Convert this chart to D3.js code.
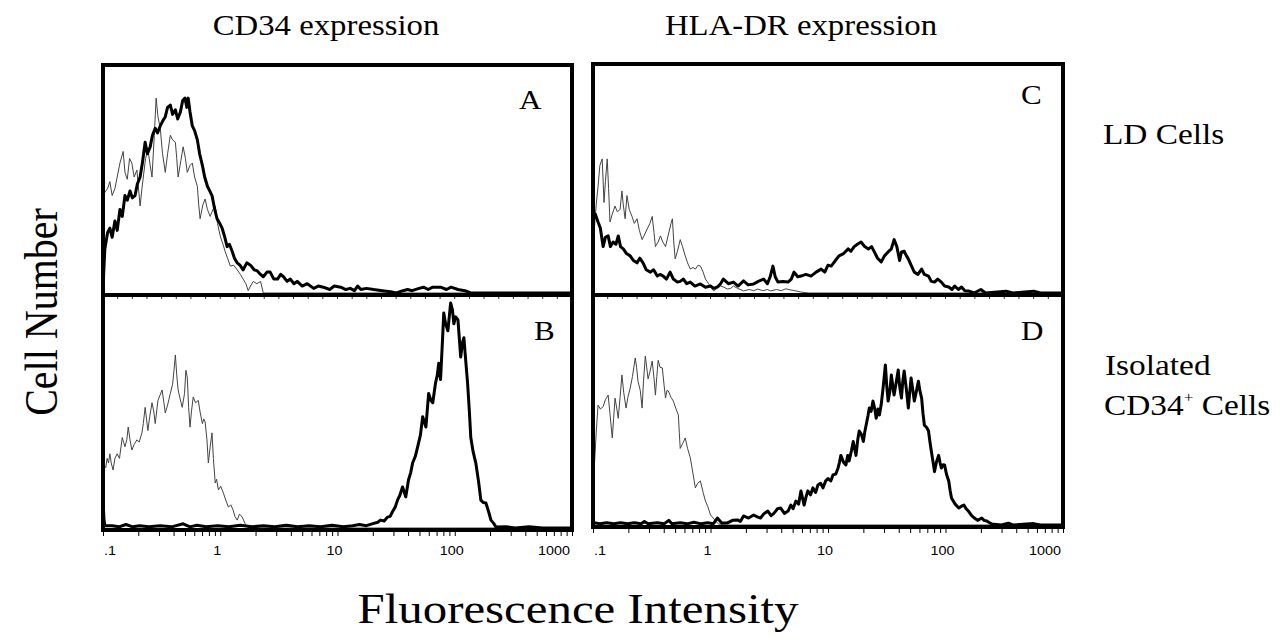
<!DOCTYPE html>
<html>
<head>
<meta charset="utf-8">
<script src="https://cdn.jsdelivr.net/npm/d3@7"></script>
<style>body{margin:0;background:#fff}</style>
</head>
<body>
<div id="container"></div>
<script>
// histograms: [channel (0-1023 over 4 decades), % of panel height]
const aThin = [[0,40],[4,43.5],[10,45],[15,48],[20,42],[26,45],[31,50],[37,56],[44,61],[48,52],[53,49],[58,58],[63,56],[68,50],[74,53],[78,44],[81,37.5],[85,45],[88,50],[93,58],[98,62],[103,55],[107,50],[112,68],[116,84],[120,76],[125,71],[130,60],[136,52],[141,60],[147,68],[152,66],[158,65],[161,58],[164,50],[170,57],[175,63],[180,58],[184,52],[190,55],[195,56],[200,50],[206,46],[209,38],[212,32],[218,38],[223,40.5],[228,36],[234,33],[240,36],[245,37.5],[250,30],[256,24.5],[262,21],[267,17.7],[272,15],[278,11.6],[285,12],[293,10],[300,8],[306,6],[312,4],[317,1],[322,3],[328,5],[336,4],[344,5],[350,0],[1023,0]];
const aThick = [[0,2],[4,19],[10,26],[15,28],[20,24],[26,31],[31,27],[37,36],[42,33],[48,42],[53,40],[59,44],[64,41],[70,42],[75,47],[81,50],[86,56],[92,65],[97,60],[103,63],[108,68],[114,71],[119,69],[125,72],[130,74],[136,76],[141,80],[147,81],[152,77],[158,79],[163,75],[169,78],[174,83],[179,84],[183,80],[186,84],[190,78],[195,72],[200,70],[206,66],[211,60],[217,55],[222,50],[228,46],[233,44],[238,42],[244,36],[249,32],[255,30],[260,28],[266,24],[271,20],[276,21],[282,18],[287,15],[293,13],[299,12],[306,10],[314,13],[322,12],[330,10],[337,9.5],[344,8],[350,7],[358,9],[365,9],[373,6],[381,6],[388,8],[394,7],[402,5],[409,6],[417,4],[424,5],[435,3],[446,4],[460,2],[470,3],[481,2.5],[495,1.5],[505,3],[519,2.5],[530,1.5],[540,2],[549,1],[556,3],[563,1.5],[575,2],[591,1.5],[610,1],[628,0.5],[640,0],[655,1],[665,1.5],[675,1],[690,2],[700,2.5],[710,1.5],[720,2.5],[737,2.5],[750,1.5],[760,2.5],[775,1.5],[790,1],[803,0],[1023,0]];

const bThin = [[0,20],[3,27],[6,26],[9,30],[12,28],[15,32],[18,28],[22,25],[26,30],[31,32],[36,30],[42,39],[45,37],[48,35],[52,38],[55,43.5],[59,38],[63,33.6],[68,36],[74,38],[79,37],[85,41],[88,45],[92,52],[95,47],[98,42],[102,48],[107,54],[111,50],[114,45],[117,50],[120,55],[124,57],[129,59.5],[133,54],[136,49.6],[141,53],[147,58],[152,62],[155,68],[158,74.6],[161,66],[164,59.5],[168,56],[173,52],[178,58],[181,68],[184,65],[187,52],[190,43.5],[193,50],[197,56.5],[202,54],[208,55],[212,50],[217,45],[220,47],[223,45.7],[227,38],[230,28],[234,35],[238,41],[241,30],[245,19.4],[248,21],[252,16.4],[257,18],[263,15],[268,12],[274,9],[279,10],[284,7.8],[288,5],[293,3.4],[298,6],[304,4.7],[310,2],[315,0.4],[330,0],[1023,0]];
const bThick = [[0,13],[2,4],[4,1],[20,1],[35,0.5],[50,1.5],[65,0.5],[80,1],[100,0.5],[125,1],[150,0.5],[175,1.8],[190,0.5],[205,1.2],[225,0.5],[250,1],[275,0.5],[300,1.2],[325,0.5],[350,1],[375,0.5],[400,1.2],[425,0.5],[450,1],[475,0.5],[500,1.2],[525,0.5],[545,1],[560,1.5],[575,1],[591,2],[600,2.5],[606,3.4],[614,3],[621,4.7],[627,5],[632,7],[638,9],[643,12],[648,14],[654,17.7],[661,13.4],[667,20.7],[672,24],[676,28],[682,31],[687,35],[693,40],[698,48],[705,43.5],[711,58],[716,55],[720,54],[726,62.5],[730,66],[733,71],[737,64],[741,80],[744,92.7],[748,88],[753,85],[759,97],[763,94],[766,88],[770,91],[775,89.7],[781,73.7],[785,80],[788,82],[792,72],[796,62.5],[800,50],[803,39],[808,33],[814,28],[820,20],[825,12],[830,11],[836,10.8],[842,7],[847,3.4],[853,2],[858,0.4],[880,0.5],[900,0],[930,0.5],[960,0],[1023,0]];

const cThin = [[0,20],[4,30.6],[7,38],[11,46],[15,55],[20,57.8],[24,39],[27,48],[31,57.8],[34,45],[37,30.6],[42,34],[48,37.5],[53,35],[59,36],[63,44],[66,38],[70,32],[74,42],[79,36],[85,33],[90,30],[96,32],[101,27],[107,23],[112,25],[118,27.6],[124,30],[129,33],[133,26],[136,20],[142,22],[147,24.6],[152,22],[158,20],[164,25],[170,30],[173,32],[176,22],[179,14.7],[184,18],[190,23],[195,20],[201,16],[206,13],[212,10.3],[218,11],[223,10.3],[229,12],[234,11.6],[240,9],[245,6],[252,4],[258,2],[263,0.9],[270,2],[278,3],[285,2.5],[293,1.7],[300,2],[306,3],[315,2],[328,0.9],[340,1.5],[350,1],[359,1.7],[370,1],[380,1.5],[387,0.9],[400,1.5],[410,1],[420,1.8],[431,1.3],[440,1],[453,0.4],[470,0],[1023,0]];
const cThick = [[0,32],[5,34],[11,30.6],[16,28],[22,20],[27,24],[33,24.6],[38,20],[44,22],[50,21],[55,24.6],[60,20],[66,19],[73,17],[81,16],[88,14],[96,13],[102,15],[109,13],[116,10],[125,9],[132,10],[140,7.3],[146,8],[153,7.3],[160,6],[168,9],[175,6],[184,4.7],[190,5],[197,6],[204,4],[212,4.7],[222,3],[234,3.9],[245,2.5],[256,3],[263,2],[271,2.6],[278,4],[284,6],[295,4],[306,4.7],[316,3],[328,5.2],[338,3.5],[350,3.9],[360,5],[372,6],[380,4],[386,7],[392,11.6],[397,7],[403,4.7],[414,5],[425,4.7],[432,6],[438,9],[446,7],[453,7.3],[464,8],[475,7.3],[486,9],[497,10.3],[505,9],[512,12],[519,11.6],[528,14],[536,16],[546,17],[556,19],[562,18],[569,20],[576,21],[584,22],[592,20],[600,19],[607,20],[613,17.7],[620,15],[628,13.4],[635,16],[643,17.7],[650,19],[656,23],[662,20],[668,14],[672,17.7],[678,18],[683,16],[687,14.7],[693,12],[700,9],[708,8],[716,10.3],[722,8],[731,7.3],[737,5],[744,4.7],[751,6],[759,4.7],[766,3],[775,2.6],[782,1.5],[788,3],[796,1.5],[803,2.6],[810,1],[818,0.9],[830,0],[845,1.5],[855,0],[900,0.8],[915,0],[960,0.8],[975,0],[1023,0]];

const dThin = [[0,15],[2,22],[4,29],[7,40],[11,51.7],[16,50],[22,51],[27,54],[33,56],[37,48],[42,37.5],[45,46],[48,54.7],[52,50],[55,46],[59,55],[63,64.7],[67,57],[72,50.4],[76,55],[81,59],[86,64],[92,72],[95,68],[98,62],[103,58],[107,50.4],[110,62],[114,72.8],[117,68],[120,63],[124,66],[129,70.7],[133,63],[136,56],[139,64],[142,71],[146,68],[151,67.7],[155,60],[158,54.7],[161,58],[164,57.8],[170,55],[175,53.4],[181,50],[186,47.4],[188,40],[190,33],[195,35],[201,37.5],[206,33],[212,29],[218,22],[223,16],[228,18],[234,19],[240,14],[245,10.3],[250,8],[256,4.3],[262,3],[267,1.7],[274,0.4],[290,0],[1023,0]];
const dThick = [[0,1],[15,0.5],[30,1],[45,0.5],[60,1],[75,0.5],[90,1],[105,0.5],[112,1.5],[120,0.5],[140,1],[155,0.5],[165,2],[172,0.5],[190,1],[205,0.5],[220,1.2],[235,0.5],[250,1],[262,0.5],[271,3],[280,1],[293,0.9],[304,2],[315,2.2],[321,1.5],[328,3.9],[339,3],[350,4.3],[358,3.5],[365,3],[373,5],[381,6],[388,4],[394,5],[402,7],[409,7.3],[417,5],[425,6],[431,8.6],[436,7],[442,10.3],[448,9],[453,14.7],[460,8.6],[464,12],[468,14.7],[474,13],[479,16],[485,14],[490,17.2],[496,18],[501,16],[507,19],[512,20],[518,19],[523,21.6],[529,22],[534,24.6],[537,27],[540,30],[546,27],[551,25.9],[555,30],[558,27.6],[563,32],[567,36],[570,33],[573,30],[577,37],[580,40.5],[585,39],[589,36],[592,40],[595,43],[599,47],[602,50.4],[606,49],[610,53.4],[614,50],[617,46],[621,50],[624,47.4],[628,52],[632,59],[635,65],[637,69],[640,60],[643,53.4],[647,58],[650,64.7],[653,60],[656,56],[661,62],[665,66.8],[668,60],[672,54.7],[675,62],[678,66.4],[683,58],[687,50.4],[690,57],[693,63.4],[697,58],[700,53.4],[705,58],[709,62],[712,58],[716,54.7],[719,48],[722,43],[727,42],[731,40.5],[734,36],[737,32],[741,27],[744,23],[748,27],[753,30],[756,27],[759,24.6],[763,26],[766,25.9],[770,22],[775,19],[778,15],[781,11.6],[789,9],[797,7.3],[802,8],[808,8.6],[813,7],[818,6],[825,4],[831,3],[838,2],[847,3],[852,2],[858,1.7],[864,1],[869,0.4],[890,0],[905,0.8],[915,0],[960,0.6],[975,0],[1023,0]];

const columnTitles = ["CD34 expression", "HLA-DR expression"];
const rowLabels = [["LD Cells"], ["Isolated", "CD34", "+", " Cells"]];
const panelLetters = ["A", "B", "C", "D"];
const tickValues = [0.1, 1, 10, 100, 1000];
const tickLabels = [".1", "1", "10", "100", "1000"];

const width = 1284, height = 639;
const sx = 1.15; // la figure est un peu étirée en largeur

const svg = d3.select("#container").append("svg")
    .attr("width", width)
    .attr("height", height);

// texte étiré horizontalement
function stretched(parent, x, y, str, size, family, anchor) {
    const g = parent.append("g").attr("transform", `translate(${x},${y}) scale(${sx},1)`);
    return g.append("text")
        .attr("font-family", family)
        .attr("font-size", size)
        .attr("text-anchor", anchor || "start")
        .attr("fill", "#000")
        .text(str);
}

const serif = "'Liberation Serif', 'Times New Roman', serif";
const sans = "'Liberation Sans', Arial, sans-serif";

const cols = [
    {x0: 103, x1: 572, top: 65, mid: 295, bot: 530, title: 326},
    {x0: 593, x1: 1063, top: 64, mid: 295, bot: 527, title: 801}
];
const chan = c => Math.pow(10, c / 256 - 1);

const panels = [
    {col: 0, row: 0, thin: aThin, thick: aThick, lx: 519, ly: 109},
    {col: 0, row: 1, thin: bThin, thick: bThick, lx: 534, ly: 340},
    {col: 1, row: 0, thin: cThin, thick: cThick, lx: 1021, ly: 104},
    {col: 1, row: 1, thin: dThin, thick: dThick, lx: 1021, ly: 340}
];

const defs = svg.append("defs");

panels.forEach((p, i) => {
    const c = cols[p.col];
    const x = d3.scaleLog().domain([0.1, 1000]).range([c.x0, c.x1]);
    const base = p.row === 0 ? c.mid - 2 : c.bot - 2;
    const topEdge = p.row === 0 ? c.top : c.mid;
    const y = d3.scaleLinear().domain([0, 100]).range([base, base - 232]);

    defs.append("clipPath").attr("id", "clip" + i)
        .append("rect")
        .attr("x", c.x0 + 1).attr("y", topEdge + 1)
        .attr("width", c.x1 - c.x0 - 2).attr("height", base - topEdge + 1);

    const line = d3.line()
        .x(d => x(chan(d[0])))
        .y(d => y(d[1]));

    const g = svg.append("g").attr("clip-path", `url(#clip${i})`);
    g.append("path").datum(p.thin)
        .attr("d", line)
        .attr("fill", "none")
        .attr("stroke", "#444")
        .attr("stroke-width", 1);
    g.append("path").datum(p.thick)
        .attr("d", line)
        .attr("fill", "none")
        .attr("stroke", "#000")
        .attr("stroke-width", 3)
        .attr("stroke-linejoin", "round");

    stretched(svg, p.lx, p.ly, panelLetters[i], 27, serif);
});

cols.forEach((c, ci) => {
    const x = d3.scaleLog().domain([0.1, 1000]).range([c.x0, c.x1]);

    // cadre et séparation
    svg.append("rect")
        .attr("x", c.x0).attr("y", c.top)
        .attr("width", c.x1 - c.x0).attr("height", c.bot - c.top)
        .attr("fill", "none").attr("stroke", "#000").attr("stroke-width", 4);
    svg.append("line")
        .attr("x1", c.x0).attr("x2", c.x1)
        .attr("y1", c.mid).attr("y2", c.mid)
        .attr("stroke", "#000").attr("stroke-width", 4);

    // petits traits de canaux sous la séparation
    const ch = d3.scaleLinear().domain([0, 1024]).range([c.x0, c.x1]);
    svg.append("g").selectAll("line")
        .data(d3.range(32, 1024, 32))
        .join("line")
        .attr("x1", d => ch(d)).attr("x2", d => ch(d))
        .attr("y1", c.mid + 2).attr("y2", c.mid + 4)
        .attr("stroke", "#333").attr("stroke-width", 1);

    // graduations log sous le cadre
    const axis = d3.axisBottom(x)
        .tickValues(x.ticks())
        .tickSize(4)
        .tickFormat("");
    const ag = svg.append("g")
        .attr("transform", `translate(0,${c.bot + 2})`)
        .call(axis);
    ag.select(".domain").remove();
    ag.selectAll(".tick line").attr("stroke", "#000").attr("stroke-width", 1);

    tickValues.forEach((v, k) => {
        let anchor = "middle", px = x(v) - 3;
        if (k === 0) { anchor = "start"; px = x(v) + 1; }
        if (k === tickValues.length - 1) { anchor = "end"; px = x(v) - 2; }
        stretched(svg, px, 555, tickLabels[k], 12.5, sans, anchor);
    });

    stretched(svg, c.title, 35, columnTitles[ci], 28.5, serif, "middle");
});

// étiquettes des lignes à droite
stretched(svg, 1103, 144, rowLabels[0][0], 29, serif);
stretched(svg, 1105, 375, rowLabels[1][0], 29, serif);
const t = stretched(svg, 1104, 415, "", 29, serif);
t.append("tspan").text(rowLabels[1][1]);
t.append("tspan").attr("font-size", 15).attr("dy", -13).text(rowLabels[1][2]);
t.append("tspan").attr("dy", 13).text(rowLabels[1][3]);

// titres des axes
svg.append("g")
    .attr("transform", "translate(57,312) rotate(-90) scale(1,1.15)")
    .append("text")
    .attr("font-family", serif)
    .attr("font-size", 40)
    .attr("text-anchor", "middle")
    .text("Cell Number");

stretched(svg, 578, 623, "Fluorescence Intensity", 42.5, serif, "middle");
</script>
</body>
</html>
